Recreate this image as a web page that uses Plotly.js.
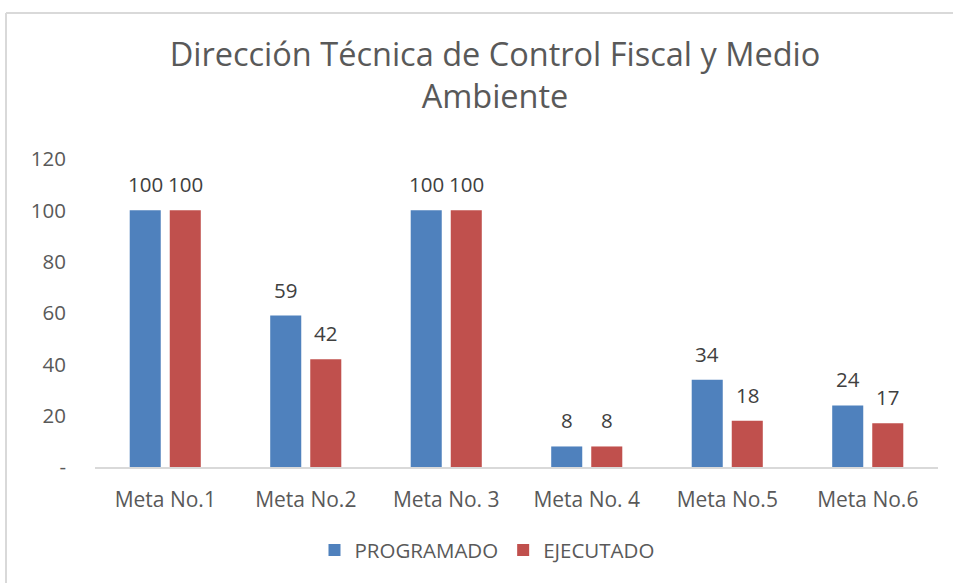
<!DOCTYPE html>
<html>
<head>
<meta charset="utf-8">
<script src="https://cdn.plot.ly/plotly-3.0.1.min.js"></script>
<style>html,body{margin:0;padding:0;background:#fff;}#chart{width:953px;height:583px;}</style>
</head>
<body>
<div id="chart"></div>
<script>
const categories = ["Meta No.1", "Meta No.2", "Meta No. 3", "Meta No. 4", "Meta No.5", "Meta No.6"];
const programado = [100, 59, 100, 8, 34, 24];
const ejecutado = [100, 42, 100, 8, 18, 17];
const seriesNames = ["PROGRAMADO", "EJECUTADO"];
const yTickVals = [0, 20, 40, 60, 80, 100, 120];
const yTickText = ["-", "20", "40", "60", "80", "100", "120"];

const FONT = "Open Sans, Noto Sans, sans-serif";
const BLUE = "#4F81BD", RED = "#C0504D";

const traces = [
  {type: "bar", name: seriesNames[0], x: categories, y: programado, marker: {color: BLUE}, hoverinfo: "none"},
  {type: "bar", name: seriesNames[1], x: categories, y: ejecutado, marker: {color: RED}, hoverinfo: "none"}
];

const annotations = [];
[programado, ejecutado].forEach((arr, s) => {
  arr.forEach((v, i) => {
    annotations.push({
      x: categories[i], y: v, xref: "x", yref: "y",
      text: String(v), showarrow: false,
      xshift: s === 0 ? -20 : 20, yshift: 10, yanchor: "bottom",
      font: {family: FONT, size: 20.5, color: "#404040"}
    });
  });
});

const layout = {
  width: 953, height: 583,
  margin: {l: 95, r: 15, t: 159, b: 116},
  paper_bgcolor: "#fff", plot_bgcolor: "#fff",
  font: {family: FONT, color: "#595959"},
  title: {
    text: "Dirección Técnica de Control Fiscal y Medio<br>Ambiente",
    font: {family: FONT, size: 32.5, color: "#595959"},
    x: 495/953, xanchor: "center", y: 1 - 66/583, yanchor: "middle", yref: "container"
  },
  barmode: "group", bargap: 0.43, bargroupgap: 0.225,
  xaxis: {
    type: "category", showgrid: false, zeroline: false,
    showline: true, linecolor: "#D9D9D9", linewidth: 1.5,
    ticks: "", ticklabelstandoff: 13,
    tickfont: {family: FONT, size: 21, color: "#595959"}
  },
  yaxis: {
    range: [0, 120], tickvals: yTickVals, ticktext: yTickText,
    showgrid: false, zeroline: false, showline: false, ticks: "",
    ticklabelstandoff: 28,
    tickfont: {family: FONT, size: 20.5, color: "#595959"}
  },
  showlegend: true,
  legend: {
    orientation: "h", x: 0.465, xanchor: "center", y: -0.27, yanchor: "middle",
    font: {family: FONT, size: 20.5, color: "#595959"},
    itemwidth: 30, traceorder: "normal"
  },
  annotations: annotations,
  shapes: [
    {type: "line", xref: "paper", yref: "paper", x0: (6-95)/843, x1: 1.1, y0: (467-13)/308, y1: (467-13)/308, line: {color: "#D9D9D9", width: 2}},
    {type: "line", xref: "paper", yref: "paper", x0: (6-95)/843, x1: (6-95)/843, y0: (467-13)/308, y1: -0.5, line: {color: "#D9D9D9", width: 2}}
  ]
};

Plotly.newPlot("chart", traces, layout, {displayModeBar: false, staticPlot: true});
</script>
</body>
</html>
